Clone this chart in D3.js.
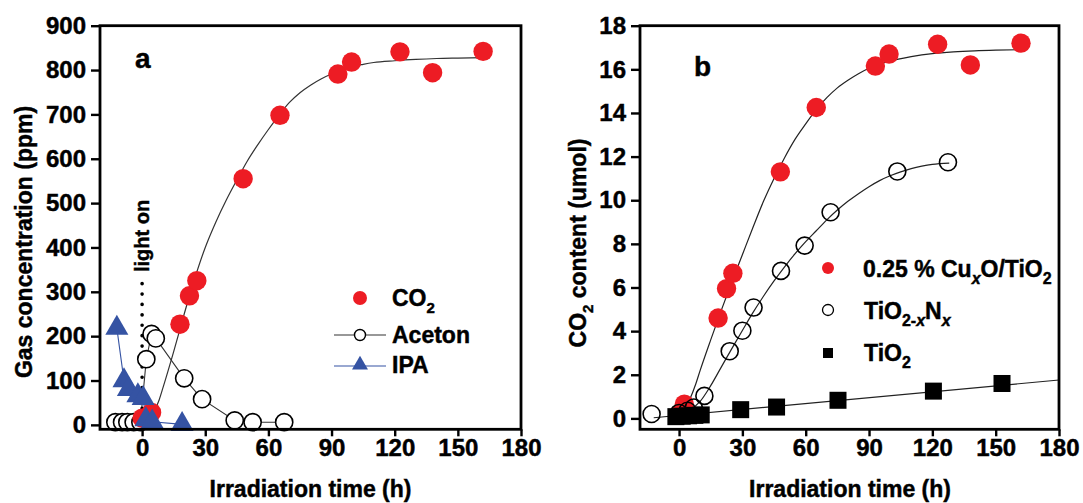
<!DOCTYPE html>
<html><head><meta charset="utf-8">
<script src="https://cdn.jsdelivr.net/npm/d3@7"></script>
<style>
body{margin:0;background:#fff}
svg{display:block;font-family:"Liberation Sans",Arial,Helvetica,sans-serif;font-weight:bold}
svg text{stroke:#000;stroke-width:0.45px;fill:#000}
</style>
</head><body>
<svg id="chart" width="1083" height="503"></svg>
<script>
// ---------- tick labels ----------
const xTicks = [0, 30, 60, 90, 120, 150, 180];
const yTicksA = [0, 100, 200, 300, 400, 500, 600, 700, 800, 900];
const yTicksB = [0, 2, 4, 6, 8, 10, 12, 14, 16, 18];

// ---------- panel a ----------
const co2A = [[0,15],[4.5,28],[18,227],[22.5,291],[26,325],[48,555],[65.5,698],[93,791],[99.5,818],[122.5,841],[138,794],[162,842]];
const acetonA = [[-12.7,6],[-9.5,6],[-7,6],[-4,6],[-0.8,6],[2,148],[4.5,205],[6.5,195],[20,105],[28.5,58],[44,10],[52.5,6],[67.5,6]];
const ipaA = [[-12,218],[-8.6,100],[-6.5,80],[-2,66],[0.5,60],[1.8,12],[4.8,7],[19,1]];
const co2FitA = [[0,0],[3,10],[5,24],[8,55],[10,85],[15,165],[20,250],[25,330],[30,400],[35,457],[40,507],[45,552],[50,595],[55,632],[60,666],[65,698],[70,727],[75,749],[80,766],[85,780],[90,791],[95,800],[100,808],[105,813],[110,817],[120,821],[130,824],[140,826],[150,827],[162,828]];
const lightOnLine = [[0,-10],[0,320]];
const legendA = ["CO2", "Aceton", "IPA"];

// ---------- panel b ----------
const cuxoB = [[0,0.2],[2.5,0.65],[18.5,4.6],[22.5,5.95],[25.5,6.65],[48,11.3],[65,14.25],[93,16.15],[99.5,16.7],[122.5,17.15],[138,16.2],[162,17.2]];
const tionB = [[-13,0.2],[0,0.25],[4,0.35],[7,0.5],[12,1.03],[24,3.08],[30,4.02],[35.3,5.08],[48.3,6.76],[59.5,7.92],[71.8,9.45],[103.4,11.32],[127.4,11.74]];
const tio2B = [[-1.5,0.08],[1.5,0.1],[4.5,0.12],[7.5,0.14],[10.5,0.16],[29.2,0.4],[46.2,0.52],[75.3,0.83],[120.5,1.25],[153,1.6]];
const cuxoFitB = [[0,0.15],[3,0.45],[5,0.85],[8,1.6],[10,2.2],[15,3.6],[20,4.95],[25,6.25],[30,7.5],[35,8.75],[40,9.95],[45,11.0],[50,11.95],[55,12.8],[60,13.5],[65,14.15],[70,14.7],[75,15.15],[80,15.5],[85,15.8],[90,16.05],[95,16.23],[100,16.38],[110,16.58],[120,16.72],[130,16.8],[140,16.85],[150,16.88],[162,16.9]];
const tionFitB = [[0,0.2],[5,0.38],[10,0.78],[15,1.5],[20,2.35],[25,3.2],[30,4.03],[35,4.85],[40,5.6],[45,6.3],[50,6.95],[55,7.55],[60,8.1],[65,8.6],[70,9.1],[75,9.55],[80,9.95],[85,10.3],[90,10.62],[95,10.9],[100,11.12],[105,11.3],[110,11.45],[115,11.56],[120,11.64],[128,11.7]];
const tio2FitB = [[-12,0.03],[180,1.76]];

// ---------- drawing ----------
const svg = d3.select("#chart");
const RED = "#ed1c24", BLUE = "#3553a3";
const TOP = 25.7, BOT = 429.3;

function richText(sel, parts, subSize, subShift) {
  let cur = 0;
  parts.forEach(p => {
    const shift = p.sub ? subShift : 0;
    const ts = sel.append("tspan").text(p.t).attr("dy", shift - cur);
    if (p.sub) ts.attr("font-size", subSize);
    if (p.it) ts.attr("font-style", "italic");
    cur = shift;
  });
}

function panel(xr, xd, yd, yTicks) {
  const x = d3.scaleLinear().domain(xd).range(xr);
  const y = d3.scaleLinear().domain(yd).range([BOT, TOP]);
  const g = svg.append("g");
  const ax = g.append("g").attr("transform", `translate(0,${BOT})`)
    .call(d3.axisBottom(x).tickValues(xTicks).tickSizeInner(7).tickSizeOuter(0).tickPadding(3));
  const ay = g.append("g").attr("transform", `translate(${xr[0]},0)`)
    .call(d3.axisLeft(y).tickValues(yTicks).tickSizeInner(9).tickSizeOuter(0).tickPadding(5));
  [ax, ay].forEach(a => {
    a.select(".domain").remove();
    a.selectAll("line").attr("stroke", "#000").attr("stroke-width", 2.4);
    a.selectAll("text").attr("font-size", 24).attr("font-weight", "bold").attr("fill", "#000")
      .attr("font-family", '"Liberation Sans",Arial,sans-serif');
  });
  return {x, y, g};
}

function frame(p) {
  const [x0, x1] = p.x.range();
  p.g.append("rect").attr("x", x0).attr("y", TOP).attr("width", x1 - x0).attr("height", BOT - TOP)
    .attr("fill", "none").attr("stroke", "#000").attr("stroke-width", 2.8);
}

// ===== Panel a =====
const A = panel([100, 521], [-20, 180], [-10, 900], yTicksA);
const lineA = d3.line().x(d => A.x(d[0])).y(d => A.y(d[1]));
A.g.append("path").attr("d", lineA.curve(d3.curveMonotoneX)(co2FitA))
  .attr("fill", "none").attr("stroke", "#333").attr("stroke-width", 1.2);
A.g.append("path").attr("d", d3.line().x(d => A.x(d[0])).y(d => A.y(d[1]))(acetonA))
  .attr("fill", "none").attr("stroke", "#333").attr("stroke-width", 1.1);
A.g.append("path").attr("d", d3.line().x(d => A.x(d[0])).y(d => A.y(d[1]))(ipaA))
  .attr("fill", "none").attr("stroke", BLUE).attr("stroke-width", 1.1);
// light on dotted line
A.g.append("path").attr("d", d3.line().x(d => A.x(d[0])).y(d => A.y(d[1]))(lightOnLine))
  .attr("stroke", "#000").attr("stroke-width", 3.6).attr("stroke-linecap", "round")
  .attr("stroke-dasharray", "0.1,10.3");
A.g.selectAll(".ac").data(acetonA).join("circle")
  .attr("cx", d => A.x(d[0])).attr("cy", d => A.y(d[1])).attr("r", 8.6)
  .attr("fill", "#fff").attr("stroke", "#000").attr("stroke-width", 1.6);
A.g.selectAll(".co2").data(co2A).join("circle")
  .attr("cx", d => A.x(d[0])).attr("cy", d => A.y(d[1])).attr("r", 9.7).attr("fill", RED);
const tri = d3.symbol(d3.symbolTriangle, 230);
A.g.selectAll(".ipa").data(ipaA).join("path")
  .attr("d", tri).attr("transform", d => `translate(${A.x(d[0])},${A.y(d[1])})`).attr("fill", BLUE);
A.g.append("text").attr("transform", `translate(${A.x(0) + 7},272) rotate(-90)`)
  .attr("font-size", 20).text("light on");
frame(A);
svg.append("text").attr("x", 135).attr("y", 68).attr("font-size", 28).text("a");
// legend a
const lgA = svg.append("g");
lgA.append("circle").attr("cx", 360).attr("cy", 298).attr("r", 7).attr("fill", RED);
richText(lgA.append("text").attr("x", 392).attr("y", 306).attr("font-size", 23),
  [{t: "CO"}, {t: "2", sub: true}], 15, 7);
lgA.append("line").attr("x1", 334).attr("x2", 386).attr("y1", 335).attr("y2", 335).attr("stroke", "#333").attr("stroke-width", 1.1);
lgA.append("circle").attr("cx", 360).attr("cy", 335).attr("r", 5.5).attr("fill", "#fff").attr("stroke", "#000").attr("stroke-width", 1.4);
lgA.append("text").attr("x", 392).attr("y", 343).attr("font-size", 23).text(legendA[1]);
lgA.append("line").attr("x1", 334).attr("x2", 386).attr("y1", 366).attr("y2", 366).attr("stroke", BLUE).attr("stroke-width", 1.1);
lgA.append("path").attr("d", d3.symbol(d3.symbolTriangle, 110)).attr("transform", "translate(360,365)").attr("fill", BLUE);
lgA.append("text").attr("x", 392).attr("y", 373).attr("font-size", 23).text(legendA[2]);
// axis titles a
svg.append("text").attr("transform", "translate(32,242) rotate(-90)").attr("text-anchor", "middle")
  .attr("font-size", 23).text("Gas concentration (ppm)");
svg.append("text").attr("x", 310.5).attr("y", 497).attr("text-anchor", "middle")
  .attr("font-size", 23).text("Irradiation time (h)");

// ===== Panel b =====
const B = panel([640, 1059], [-18.5, 180], [-0.5, 18], yTicksB);
const lineB = () => d3.line().x(d => B.x(d[0])).y(d => B.y(d[1]));
B.g.append("path").attr("d", lineB().curve(d3.curveMonotoneX)(cuxoFitB))
  .attr("fill", "none").attr("stroke", "#222").attr("stroke-width", 1.2);
B.g.append("path").attr("d", lineB().curve(d3.curveMonotoneX)(tionFitB))
  .attr("fill", "none").attr("stroke", "#222").attr("stroke-width", 1.2);
B.g.append("path").attr("d", lineB()(tio2FitB))
  .attr("fill", "none").attr("stroke", "#222").attr("stroke-width", 1.2);
B.g.selectAll(".cu").data(cuxoB).join("circle")
  .attr("cx", d => B.x(d[0])).attr("cy", d => B.y(d[1])).attr("r", 9.7).attr("fill", RED);
B.g.selectAll(".tn").data(tionB).join("circle")
  .attr("cx", d => B.x(d[0])).attr("cy", d => B.y(d[1])).attr("r", 8.5)
  .attr("fill", "none").attr("stroke", "#000").attr("stroke-width", 1.6);
B.g.selectAll(".sq").data(tio2B).join("rect")
  .attr("x", d => B.x(d[0]) - 8.5).attr("y", d => B.y(d[1]) - 8.5).attr("width", 17).attr("height", 17).attr("fill", "#000");
frame(B);
svg.append("text").attr("x", 694).attr("y", 76).attr("font-size", 28).text("b");
// legend b
const lgB = svg.append("g");
lgB.append("circle").attr("cx", 828).attr("cy", 268).attr("r", 6).attr("fill", RED);
richText(lgB.append("text").attr("x", 863).attr("y", 277).attr("font-size", 23),
  [{t: "0.25 % Cu"}, {t: "x", sub: true, it: true}, {t: "O/TiO"}, {t: "2", sub: true}], 16, 7);
lgB.append("circle").attr("cx", 828).attr("cy", 310).attr("r", 5.5).attr("fill", "none").attr("stroke", "#000").attr("stroke-width", 1.3);
richText(lgB.append("text").attr("x", 864).attr("y", 318.5).attr("font-size", 23),
  [{t: "TiO"}, {t: "2-", sub: true}, {t: "x", sub: true, it: true}, {t: "N"}, {t: "x", sub: true, it: true}], 16, 7);
lgB.append("rect").attr("x", 823).attr("y", 348).attr("width", 10).attr("height", 10).attr("fill", "#000");
richText(lgB.append("text").attr("x", 864).attr("y", 361).attr("font-size", 23),
  [{t: "TiO"}, {t: "2", sub: true}], 16, 7);
// axis titles b
richText(svg.append("text").attr("transform", "translate(586,243) rotate(-90)").attr("text-anchor", "middle")
  .attr("font-size", 23), [{t: "CO"}, {t: "2", sub: true}, {t: " content (umol)"}], 15, 7);
svg.append("text").attr("x", 850).attr("y", 497).attr("text-anchor", "middle")
  .attr("font-size", 23).text("Irradiation time (h)");
</script>
</body></html>
